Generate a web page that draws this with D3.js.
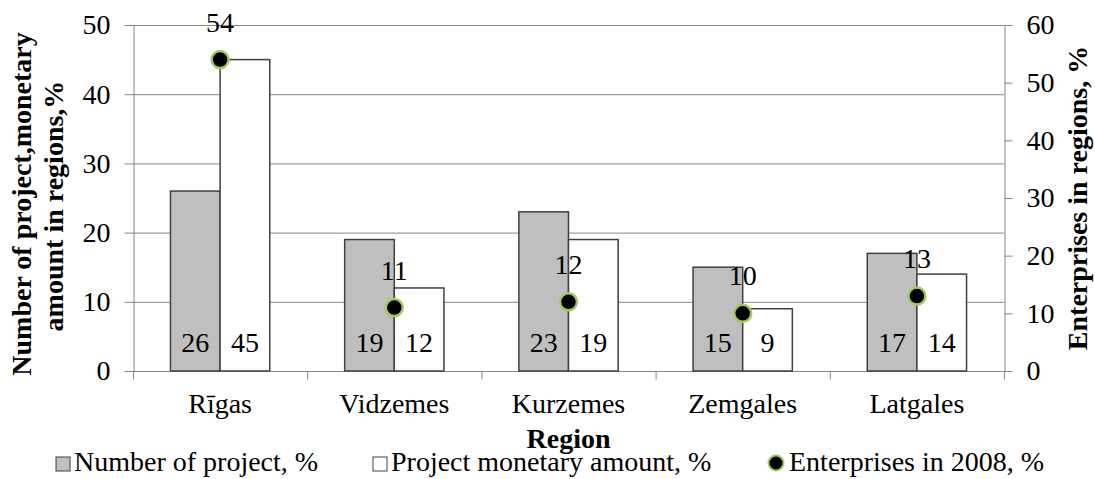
<!DOCTYPE html>
<html>
<head>
<meta charset="utf-8">
<script src="https://cdn.jsdelivr.net/npm/d3@7"></script>
<style>
  body { margin: 0; background: #fff; }
</style>
</head>
<body>
<svg id="chart" width="1095" height="479"></svg>
<script>
// data
var regions = ["Rīgas", "Vidzemes", "Kurzemes", "Zemgales", "Latgales"]
var projectCount = [26, 19, 23, 15, 17]      // Number of project, %
var projectAmount = [45, 12, 19, 9, 14]      // Project monetary amount, %
var enterprises = [54, 11, 12, 10, 13]       // Enterprises in 2008, %
var leftTicks = [0, 10, 20, 30, 40, 50]
var rightTicks = [0, 10, 20, 30, 40, 50, 60]
var seriesNames = ["Number of project, %", "Project monetary amount, %", "Enterprises in 2008, %"]

var plot = { left: 133, right: 1004, top: 25, bottom: 371 }
var fontSize = "28px"
var gridColor = "#868686"
var barStroke = "#404040"
var markerGreen = "#a3c862"

var svg = d3.select("#chart")

var x = d3.scaleBand()
    .domain(regions)
    .range([plot.left, plot.right])
    .padding(0)

var bw = x.bandwidth()
var xSub = d3.scaleBand()
    .domain(["count", "amount"])
    .range([bw * 0.215, bw * 0.785])
    .padding(0)

var yL = d3.scaleLinear().domain([0, 50]).range([plot.bottom, plot.top])
var yR = d3.scaleLinear().domain([0, 60]).range([plot.bottom, plot.top])

// gridlines
svg.append("g")
    .selectAll("line")
    .data(leftTicks.filter(d => d > 0))
    .join("line")
    .attr("x1", plot.left)
    .attr("x2", plot.right)
    .attr("y1", d => yL(d) + 0.5)
    .attr("y2", d => yL(d) + 0.5)
    .attr("stroke", gridColor)
    .attr("stroke-width", 1)

// left axis
var gL = svg.append("g")
    .attr("transform", "translate(" + (plot.left + 0.5) + ",0)")
    .call(d3.axisLeft(yL).tickValues(leftTicks).tickSize(9).tickPadding(14).tickSizeOuter(0))
gL.select(".domain").attr("stroke", gridColor)
gL.selectAll(".tick line").attr("stroke", gridColor)

// right axis
var gR = svg.append("g")
    .attr("transform", "translate(" + (plot.right + 0.5) + ",0)")
    .call(d3.axisRight(yR).tickValues(rightTicks).tickSize(8).tickPadding(14).tickSizeOuter(0))
gR.select(".domain").attr("stroke", gridColor)
gR.selectAll(".tick line").attr("stroke", gridColor)

// x axis: ticks between categories
var boundaries = regions.map(d => x(d)).concat([plot.right])
var gX = svg.append("g")
    .attr("transform", "translate(0," + (plot.bottom + 0.5) + ")")
gX.append("line")
    .attr("x1", plot.left).attr("x2", plot.right)
    .attr("stroke", gridColor)
gX.selectAll(".bt")
    .data(boundaries)
    .join("line")
    .attr("class", "bt")
    .attr("x1", d => d + 0.5).attr("x2", d => d + 0.5)
    .attr("y1", 0).attr("y2", 8)
    .attr("stroke", gridColor)
gX.selectAll(".cat")
    .data(regions)
    .join("text")
    .attr("class", "cat")
    .attr("x", d => x(d) + bw / 2)
    .attr("y", 41)
    .attr("text-anchor", "middle")
    .text(d => d)

// bars
var groups = svg.append("g")
    .selectAll("g")
    .data(regions)
    .join("g")
    .attr("transform", d => "translate(" + x(d) + ",0)")

groups.append("rect")
    .attr("x", xSub("count"))
    .attr("y", (d, i) => yL(projectCount[i]))
    .attr("width", xSub.bandwidth())
    .attr("height", (d, i) => plot.bottom - yL(projectCount[i]))
    .attr("fill", "#bfbfbf")
    .attr("stroke", barStroke)
    .attr("stroke-width", 1.5)

groups.append("rect")
    .attr("x", xSub("amount"))
    .attr("y", (d, i) => yL(projectAmount[i]))
    .attr("width", xSub.bandwidth())
    .attr("height", (d, i) => plot.bottom - yL(projectAmount[i]))
    .attr("fill", "#ffffff")
    .attr("stroke", barStroke)
    .attr("stroke-width", 1.5)

// bar labels at inside base
groups.append("text")
    .attr("x", xSub("count") + xSub.bandwidth() / 2)
    .attr("y", plot.bottom - 19)
    .attr("text-anchor", "middle")
    .text((d, i) => projectCount[i])

groups.append("text")
    .attr("x", xSub("amount") + xSub.bandwidth() / 2)
    .attr("y", plot.bottom - 19)
    .attr("text-anchor", "middle")
    .text((d, i) => projectAmount[i])

// enterprise markers
groups.append("circle")
    .attr("cx", bw / 2)
    .attr("cy", (d, i) => yR(enterprises[i]))
    .attr("r", 8.5)
    .attr("fill", "#000")
    .attr("stroke", markerGreen)
    .attr("stroke-width", 2.5)

groups.append("text")
    .attr("x", bw / 2)
    .attr("y", (d, i) => yR(enterprises[i]) - 28)
    .attr("text-anchor", "middle")
    .text((d, i) => enterprises[i])

// axis titles
svg.append("text")
    .attr("class", "bold")
    .attr("transform", "translate(31,204) rotate(-90)")
    .attr("text-anchor", "middle")
    .text("Number of project,monetary")

svg.append("text")
    .attr("class", "bold")
    .attr("transform", "translate(63,206) rotate(-90)")
    .attr("text-anchor", "middle")
    .text("amount in regions,%")

svg.append("text")
    .attr("class", "bold")
    .attr("transform", "translate(1087,198) rotate(-90)")
    .attr("text-anchor", "middle")
    .text("Enterprises in regions, %")

svg.append("text")
    .attr("class", "bold")
    .attr("x", (plot.left + plot.right) / 2)
    .attr("y", 448)
    .attr("text-anchor", "middle")
    .text("Region")

// legend
var legendY = 471
var legendX = [56, 373, 768]
var leg = svg.append("g")

leg.append("rect")
    .attr("x", legendX[0]).attr("y", legendY - 14)
    .attr("width", 14).attr("height", 14)
    .attr("fill", "#bfbfbf").attr("stroke", barStroke).attr("stroke-width", 1)
leg.append("rect")
    .attr("x", legendX[1]).attr("y", legendY - 14)
    .attr("width", 14).attr("height", 14)
    .attr("fill", "#fff").attr("stroke", barStroke).attr("stroke-width", 1)
leg.append("circle")
    .attr("cx", legendX[2] + 8).attr("cy", legendY - 8)
    .attr("r", 7.5)
    .attr("fill", "#000").attr("stroke", markerGreen).attr("stroke-width", 2)

leg.selectAll(".lt")
    .data(seriesNames)
    .join("text")
    .attr("class", "lt")
    .attr("x", (d, i) => legendX[i] + (i == 2 ? 21 : 18))
    .attr("y", legendY)
    .text(d => d)

// one font for every text
svg.selectAll("text")
    .style("font-family", "Liberation Serif")
    .style("font-size", fontSize)
    .style("fill", "#000")
svg.selectAll("text.bold").style("font-weight", "bold")
</script>
</body>
</html>
